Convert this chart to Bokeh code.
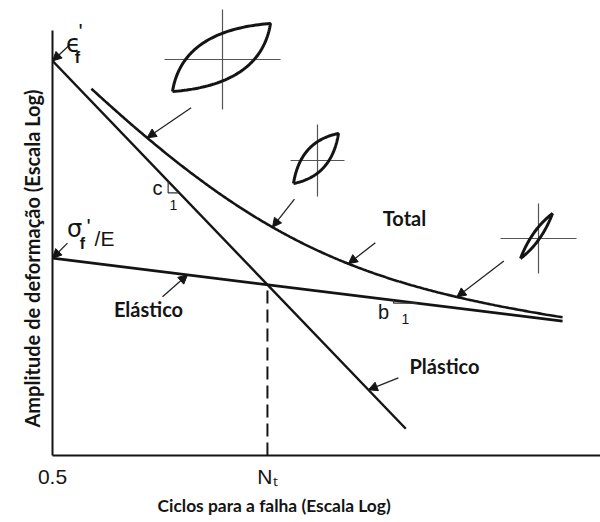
import numpy as np
from bokeh.plotting import figure
from bokeh.models import Range1d, FixedTicker, Label, Arrow, NormalHead, Title
from bokeh.embed import file_html
from bokeh.resources import INLINE

# ---- strain-life parameters (Basquin elastic + Coffin-Manson plastic) ----
eps_f = 0.5        # ε'f  fatigue ductility coefficient
sig_f_E = 0.052    # σ'f / E  fatigue strength coefficient over modulus
b = -0.07          # fatigue strength exponent
c = -0.59          # fatigue ductility exponent

# life span of each drawn curve (cycles)
N_start = 0.5
N_total_start = 1.1
N_plastic_end = 640
N_end = 15300

# life at which the leader arrows touch each curve
N_loop_arrows = [3.4, 43, 1800]
N_total_arrow = 200
N_elastic_arrow = 7.7
N_plastic_arrow = 300
# slope markers (start, end life)
c_marker = [5.2, 6.5]
b_marker = [500, 800]

x_tick_labels = ["0.5", "Nₜ"]
x_title = "Ciclos para a falha (Escala Log)"
y_title = "Amplitude de deformação (Escala Log)"
curve_names = ["Total", "Elástico", "Plástico"]


def elastic(n):
    return sig_f_E * (2 * np.asarray(n, dtype=float)) ** b


def plastic(n):
    return eps_f * (2 * np.asarray(n, dtype=float)) ** c


def total(n):
    return elastic(n) + plastic(n)


# transition life, where elastic and plastic amplitudes are equal
N_t = float(0.5 * (sig_f_E / eps_f) ** (1.0 / (c - b)))

# ---- canvas geometry ----
W, H = 600, 522
FL, FR, FT, FB = 52, 600, 0, 455
X_RANGE = (0.5, 3.3e4)
Y_RANGE = (0.0054, 1.0)
lx0, lx1 = np.log10(X_RANGE)
ly0, ly1 = np.log10(Y_RANGE)


def px_to_data(px, py):
    x = 10 ** (lx0 + (np.asarray(px) - FL) / (FR - FL) * (lx1 - lx0))
    y = 10 ** (ly0 + (FB - np.asarray(py)) / (FB - FT) * (ly1 - ly0))
    return x, y


def data_to_px(x, y):
    px = FL + (np.log10(x) - lx0) / (lx1 - lx0) * (FR - FL)
    py = FB - (np.log10(y) - ly0) / (ly1 - ly0) * (FB - FT)
    return px, py


def shifted(x, y, dx, dy):
    px, py = data_to_px(x, y)
    return px_to_data(px + dx, py + dy)


p = figure(width=W, height=H, x_axis_type="log", y_axis_type="log",
           x_range=Range1d(*X_RANGE), y_range=Range1d(*Y_RANGE),
           output_backend="svg", toolbar_location=None,
           min_border_left=FL, min_border_right=0, min_border_top=FT,
           min_border_bottom=H - FB)
p.outline_line_color = None
p.grid.visible = False
p.background_fill_color = "white"
p.border_fill_color = "white"

INK = "#141414"

# x axis: only the first reversal and the transition life are marked
p.xaxis.ticker = FixedTicker(ticks=[N_start, N_t])
p.xaxis.major_label_overrides = {N_start: x_tick_labels[0], N_t: x_tick_labels[1]}
p.xaxis.minor_tick_line_color = None
p.xaxis.major_tick_line_color = None
p.xaxis.major_tick_out = 0
p.xaxis.major_tick_in = 0
p.xaxis.major_label_standoff = 9
p.xaxis.major_label_text_font = "Liberation Sans"
p.xaxis.major_label_text_font_size = "21px"
p.xaxis.major_label_text_color = INK
p.xaxis.axis_line_width = 2
p.xaxis.axis_line_color = INK

y_top = float(px_to_data(FL, 30)[1])
p.yaxis.ticker = FixedTicker(ticks=[])
p.yaxis.bounds = (Y_RANGE[0], y_top)
p.yaxis.minor_tick_line_color = None
p.yaxis.major_tick_line_color = None
p.yaxis.major_tick_out = 0
p.yaxis.major_tick_in = 0
p.yaxis.major_label_standoff = 0
p.yaxis.axis_line_width = 2
p.yaxis.axis_line_color = INK

# axis titles, placed from the start of each axis
p.add_layout(Title(text=x_title, align="left", offset=105, text_font="Lato",
                   text_font_style="bold", text_font_size="17.4px",
                   text_color=INK, standoff=4), "below")
p.add_layout(Title(text=y_title, align="left", offset=28, text_font="Lato",
                   text_font_style="bold", text_font_size="20px",
                   text_color=INK, standoff=18), "left")

# ---- the three strain-life curves ----
n_el = np.array([N_start, N_end])
p.line(n_el, elastic(n_el), line_width=2.7, line_color=INK)
n_pl = np.array([N_start, N_plastic_end])
p.line(n_pl, plastic(n_pl), line_width=2.4, line_color=INK)
n_tot = np.geomspace(N_total_start, N_end, 300)
p.line(n_tot, total(n_tot), line_width=2.6, line_color=INK)

# transition life marker
p.line([N_t, N_t], [Y_RANGE[0], float(elastic(N_t))], line_width=2,
       line_color=INK, line_dash="13 6")

# slope triangles
for f, (n1, n2) in ((plastic, c_marker), (elastic, b_marker)):
    y1, y2 = float(f(n1)), float(f(n2))
    p.line([n1, n1, n2], [y1, y2, y2], line_width=1.2, line_color="#333")


def pointer(x, y, dx, dy):
    xs, ys = shifted(x, y, dx, dy)
    p.add_layout(Arrow(x_start=float(xs), y_start=float(ys), x_end=float(x), y_end=float(y),
                       line_width=1.3, line_color="#222",
                       end=NormalHead(size=9, fill_color=INK, line_color=INK, line_width=1)))


def label(px, py, text, size, font="Lato", style="bold"):
    x, y = px_to_data(px, py)
    p.add_layout(Label(x=float(x), y=float(y), text=text, text_align="center",
                       text_baseline="middle", text_font=font, text_font_style=style,
                       text_font_size=size, text_color=INK))


# hysteresis loop sketches: lens centre, half diagonal, fullness, axis cross, arm lengths
loops = [
    dict(center=(221, 57), half=(49, -34), k=0.8, cross=(222, 59), arms=(58, 50)),
    dict(center=(315.5, 158), half=(22.5, -25), k=0.7, cross=(317, 160), arms=(27, 36)),
    dict(center=(536, 235.5), half=(16, -22.5), k=0.3, cross=(538, 238), arms=(38, 35)),
]
loop_arrow_tails = [(44, -30), (22, -28), (47, -36)]

t = np.linspace(0, 1, 60)[:, None]
for lp in loops:
    cen = np.array(lp["center"], dtype=float)
    d = np.array(lp["half"], dtype=float)
    k = lp["k"]
    p0, p2 = cen - d, cen + d
    c_up = cen + k * np.array([-d[0], d[1]])
    c_lo = cen + k * np.array([d[0], -d[1]])
    up = (1 - t) ** 2 * p0 + 2 * (1 - t) * t * c_up + t ** 2 * p2
    lo = (1 - t) ** 2 * p2 + 2 * (1 - t) * t * c_lo + t ** 2 * p0
    pts = np.vstack([up, lo])
    lx, ly = px_to_data(pts[:, 0], pts[:, 1])
    cx, cy = lp["cross"]
    ax_, ay_ = lp["arms"]
    hx, hy = px_to_data([cx - ax_, cx + ax_], [cy, cy])
    vx, vy = px_to_data([cx, cx], [cy - ay_, cy + ay_])
    p.line(hx, hy, line_width=1.2, line_color="#555")
    p.line(vx, vy, line_width=1.2, line_color="#555")
    p.line(lx, ly, line_width=3, line_color=INK)

for n, (dx, dy) in zip(N_loop_arrows, loop_arrow_tails):
    pointer(n, total(n), dx, dy)

pointer(N_total_arrow, total(N_total_arrow), 27, -21)
pointer(N_elastic_arrow, elastic(N_elastic_arrow), -25, 22)
pointer(N_plastic_arrow, plastic(N_plastic_arrow), 30, -12)
pointer(N_start, eps_f, 16, -15)
pointer(N_start, sig_f_E, 15, -15)

# curve names
label(404, 217, curve_names[0], "20px")
label(148, 308, curve_names[1], "20px")
label(444, 365, curve_names[2], "20px")

# slope symbols
label(157, 187, "c", "20px", "Liberation Sans", "normal")
label(173, 204, "1", "14px", "Liberation Sans", "normal")
label(383, 311, "b", "20px", "Liberation Sans", "normal")
label(405, 318, "1", "14px", "Liberation Sans", "normal")

# coefficient symbols
label(73, 43, "ϵ", "24px", "DejaVu Sans", "normal")
label(77, 57, "f", "16px", "Liberation Sans", "bold")
label(80, 31, "'", "22px", "Liberation Sans", "normal")
label(74, 228, "σ", "24px", "DejaVu Sans", "normal")
label(82, 243, "f", "16px", "Liberation Sans", "bold")
label(88, 226, "'", "22px", "Liberation Sans", "normal")
label(104, 238, "/E", "21px", "Liberation Sans", "normal")

open("out.html", "w").write(file_html(p, INLINE))
